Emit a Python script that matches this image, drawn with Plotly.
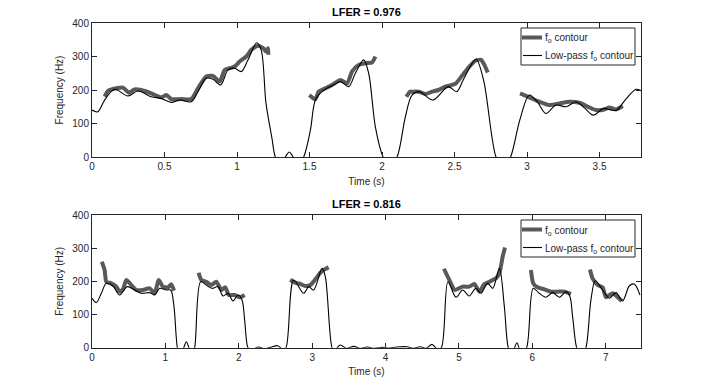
import plotly.graph_objects as go
from plotly.subplots import make_subplots

# --- top panel (LFER = 0.976) ---
top_lp_t = [0.0, 0.04, 0.087, 0.156, 0.248, 0.317, 0.409, 0.478, 0.547, 0.605, 0.685, 0.731,
            0.788, 0.834, 0.887, 0.938, 0.984, 1.03, 1.076, 1.136, 1.167, 1.20, 1.241, 1.264,
            1.30, 1.34, 1.36, 1.38, 1.42, 1.46, 1.506, 1.54, 1.586, 1.62, 1.667, 1.713, 1.77,
            1.816, 1.874, 1.908, 1.954, 2.007, 2.05, 2.104, 2.161, 2.207, 2.26, 2.35, 2.457,
            2.515, 2.56, 2.648, 2.70, 2.786, 2.836, 2.887, 2.95, 3.016, 3.07, 3.13, 3.2, 3.27,
            3.338, 3.40, 3.457, 3.527, 3.58, 3.62, 3.676, 3.752, 3.786]
top_lp_f = [140, 135, 170, 202, 182, 197, 180, 175, 163, 170, 165, 195,
            235, 232, 215, 260, 265, 255, 290, 341, 319, 160, 56, 0,
            -25, 5, 15, 5, -25, 0, 80, 170, 195, 205, 215, 225, 210,
            250, 290, 250, 90, 0, -30, 0, 120, 185, 195, 170, 210,
            195, 230, 292, 230, 0, -35, 0, 110, 185, 165, 130, 155, 150,
            165, 145, 125, 145, 140, 140, 170, 202, 198]

top_f0_segments_t = [
    [0.087, 0.11, 0.168, 0.214, 0.255, 0.294, 0.34, 0.409, 0.478, 0.513, 0.547, 0.616, 0.685,
     0.731, 0.788, 0.834, 0.88, 0.915, 0.95, 0.984, 1.018, 1.064, 1.099, 1.145, 1.18, 1.20, 1.214, 1.216],
    [1.499, 1.54, 1.563, 1.609, 1.655, 1.713, 1.76, 1.793, 1.839, 1.885, 1.931, 1.954],
    [2.168, 2.193, 2.207, 2.253, 2.299, 2.345, 2.39, 2.437, 2.483, 2.51, 2.556, 2.602, 2.648,
     2.683, 2.706, 2.729],
    [2.952, 3.016, 3.085, 3.154, 3.223, 3.292, 3.361, 3.43, 3.476, 3.533, 3.568, 3.614, 3.66],
]
top_f0_segments_f = [
    [180, 197, 205, 207, 192, 202, 200, 190, 178, 185, 173, 173, 173,
     205, 240, 242, 225, 260, 265, 270, 285, 300, 320, 332, 325, 315, 325, 305],
    [185, 172, 195, 205, 215, 230, 220, 255, 275, 280, 282, 300],
    [180, 195, 195, 195, 188, 195, 200, 210, 215, 220, 245, 270, 288, 290, 275, 252],
    [190, 178, 165, 155, 160, 165, 162, 148, 140, 142, 148, 142, 152],
]

# --- bottom panel (LFER = 0.816) ---
bot_lp_t = [0.0, 0.059, 0.127, 0.195, 0.286, 0.377, 0.481, 0.581, 0.672, 0.786, 0.854, 0.922,
            1.013, 1.072, 1.117, 1.163, 1.20, 1.25, 1.285, 1.32, 1.36, 1.399, 1.48, 1.558,
            1.635, 1.717, 1.785, 1.853, 1.921, 1.989, 2.044, 2.08, 2.125, 2.17, 2.26, 2.35,
            2.43, 2.53, 2.60, 2.643, 2.747, 2.884, 2.952, 3.02, 3.134, 3.179, 3.27, 3.30, 3.383,
            3.47, 3.565, 3.65, 3.75, 3.85, 3.95, 4.05, 4.15, 4.29, 4.38, 4.47, 4.55, 4.632,
            4.70, 4.759, 4.85, 4.959, 5.05, 5.14, 5.23, 5.30, 5.39, 5.46, 5.55, 5.618, 5.672,
            5.72, 5.79, 5.85, 5.922, 6.012, 6.094, 6.185, 6.276, 6.367, 6.458, 6.512, 6.548,
            6.603, 6.665, 6.73, 6.798, 6.857, 6.957, 7.05, 7.14, 7.23, 7.32, 7.388, 7.466]
bot_lp_f = [149, 136, 164, 194, 186, 159, 184, 174, 164, 166, 159, 179,
            174, 174, 124, 0, -25, 0, 18, 0, -25, 0, 199, 189,
            179, 184, 156, 164, 141, 159, 144, 83, 0, -8, 2, -3,
            1, 6, -5, 0, 204, 164, 184, 174, 239, 214, 0, -8, 8,
            -2, 4, -2, 2, -2, 1, -1, 2, 3, -2, 3, -2, 10,
            -3, 0, 199, 152, 174, 156, 179, 164, 194, 179, 239, 124, 0,
            -20, 15, -20, 0, 179, 164, 152, 166, 152, 169, 154, 94,
            0, -30, 0, 144, 202, 174, 149, 166, 141, 186, 192, 159]

bot_f0_segments_t = [
    [0.134, 0.172, 0.195, 0.263, 0.331, 0.377, 0.422, 0.468, 0.527, 0.604, 0.695, 0.786,
     0.854, 0.908, 0.967, 1.035, 1.081, 1.117],
    [1.453, 1.49, 1.558, 1.626, 1.694, 1.763, 1.817, 1.862, 1.944, 2.012, 2.08],
    [2.70, 2.77, 2.838, 2.906, 2.975, 3.043, 3.111, 3.17, 3.225],
    [4.795, 4.86, 4.945, 5.05, 5.14, 5.21, 5.277, 5.346, 5.414, 5.504, 5.55, 5.595, 5.627],
    [5.98, 6.012, 6.071, 6.162, 6.253, 6.344, 6.435, 6.526],
    [6.785, 6.82, 6.889, 6.957, 7.003, 7.05, 7.095, 7.163, 7.217],
]
bot_f0_segments_f = [
    [259, 234, 199, 194, 184, 169, 176, 204, 191, 174, 174, 179, 164, 204, 184, 182, 191, 172],
    [226, 204, 199, 189, 199, 174, 182, 159, 159, 152, 159],
    [205, 196, 192, 186, 189, 206, 226, 236, 242],
    [238, 208, 174, 184, 184, 192, 169, 192, 199, 209, 224, 274, 302],
    [234, 194, 182, 176, 169, 169, 169, 162],
    [236, 209, 189, 182, 152, 159, 164, 152, 141],
]

legend_labels = ["f<sub>o</sub> contour", "Low-pass f<sub>o</sub> contour"]

panels = [
    ("LFER = 0.976", top_lp_t, top_lp_f, top_f0_segments_t, top_f0_segments_f,
     3.786, [0, 0.5, 1, 1.5, 2, 2.5, 3, 3.5]),
    ("LFER = 0.816", bot_lp_t, bot_lp_f, bot_f0_segments_t, bot_f0_segments_f,
     7.48, [0, 1, 2, 3, 4, 5, 6, 7]),
]

AX = "#262626"
F0_COLOR = "#595959"
FONT = "Liberation Sans, Arial, Helvetica, sans-serif"
W, H = 708, 391

# pixel layout of each panel: (top, bottom) in px
panel_px = [(23, 157), (215, 347.7)]
x_left, x_right = 92, 641

fig = make_subplots(rows=2, cols=1)

shapes = []
annotations = []
for row, (title, lp_t, lp_f, segs_t, segs_f, xmax, xticks) in enumerate(panels, start=1):
    for st, sf in zip(segs_t, segs_f):
        fig.add_trace(go.Scatter(
            x=st, y=sf, mode="lines", name=legend_labels[0],
            line=dict(color=F0_COLOR, width=4, shape="spline", smoothing=0.6),
            showlegend=False,
        ), row=row, col=1)
    fig.add_trace(go.Scatter(
        x=lp_t, y=lp_f, mode="lines", name=legend_labels[1],
        line=dict(color="black", width=1.1, shape="spline", smoothing=0.9),
        showlegend=False,
    ), row=row, col=1)
    fig.update_xaxes(range=[0, xmax], tickvals=xticks, row=row, col=1,
                     title=dict(text="Time (s)", standoff=6))
    fig.update_yaxes(range=[0, 400], tickvals=[0, 100, 200, 300, 400], row=row, col=1,
                     title=dict(text="Frequency (Hz)", standoff=6))

    top, bot = panel_px[row - 1]
    fig.update_yaxes(domain=[1 - bot / H, 1 - top / H], row=row, col=1)

    # title
    annotations.append(dict(text=f"<b>{title}</b>", x=(x_left + x_right) / 2 / W,
                            y=1 - (top - 11) / H, xref="paper", yref="paper",
                            xanchor="center", yanchor="middle", showarrow=False,
                            font=dict(size=11, color="black")))

    # legend box drawn by hand (MATLAB style, short line samples)
    lt = top + 5
    shapes.append(dict(type="rect", xref="paper", yref="paper",
                       x0=521 / W, x1=635 / W, y0=1 - (lt + 37) / H, y1=1 - lt / H,
                       line=dict(color=AX, width=1), fillcolor="white", layer="above"))
    y1 = lt + 9.5
    y2 = lt + 27.5
    shapes.append(dict(type="line", xref="paper", yref="paper", x0=522 / W, x1=542 / W,
                       y0=1 - y1 / H, y1=1 - y1 / H, line=dict(color=F0_COLOR, width=4),
                       layer="above"))
    shapes.append(dict(type="line", xref="paper", yref="paper", x0=523 / W, x1=542 / W,
                       y0=1 - y2 / H, y1=1 - y2 / H, line=dict(color="black", width=1.1),
                       layer="above"))
    for lab, yy in zip(legend_labels, [y1, y2]):
        annotations.append(dict(text=lab, x=543 / W, y=1 - (yy + 1) / H, xref="paper",
                                yref="paper", xanchor="left", yanchor="middle",
                                showarrow=False, font=dict(size=10, color=AX)))

fig.update_xaxes(domain=[x_left / W, x_right / W])

axis_style = dict(showline=True, linecolor=AX, linewidth=1, mirror="ticks", ticks="inside",
                  ticklen=5, tickcolor=AX, showgrid=False, zeroline=False, automargin=False,
                  tickfont=dict(size=10, color=AX), title_font=dict(size=10, color=AX))
fig.update_xaxes(**axis_style)
fig.update_yaxes(**axis_style)

fig.update_layout(
    width=W, height=H,
    margin=dict(l=0, r=0, t=0, b=0, autoexpand=False),
    paper_bgcolor="white", plot_bgcolor="white",
    font=dict(family=FONT, size=10, color=AX),
    showlegend=False,
    shapes=shapes,
    annotations=annotations,
)

fig.write_html("out.html", config={"displayModeBar": False},
               post_script="document.body.style.margin='0';")
